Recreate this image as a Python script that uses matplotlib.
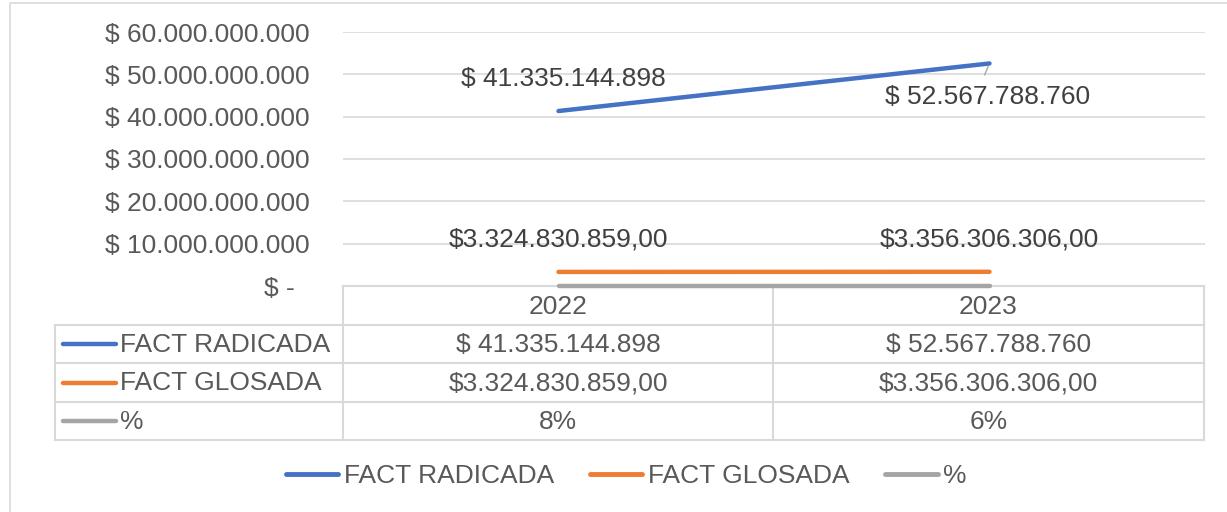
import numpy as np
import matplotlib
matplotlib.use("Agg")
import matplotlib.pyplot as plt
from matplotlib.ticker import FuncFormatter
from matplotlib.lines import Line2D

plt.rcParams['font.family'] = ['Liberation Sans', 'DejaVu Sans']

years = ["2022", "2023"]
series_names = ["FACT RADICADA", "FACT GLOSADA", "%"]
radicada = [41335144898, 52567788760]
glosada = [3324830859.00, 3356306306.00]
pct = [0.08, 0.06]
radicada_txt = ["$ 41.335.144.898", "$ 52.567.788.760"]
glosada_txt = ["$3.324.830.859,00", "$3.356.306.306,00"]
pct_txt = ["8%", "6%"]
yticks = [0, 10e9, 20e9, 30e9, 40e9, 50e9, 60e9]

colors = ["#4472C4", "#ED7D31", "#A5A5A5"]
grid_c = "#D9D9D9"
axis_txt = "#595959"
lbl_txt = "#404040"
fs = 19

W, H = 1227, 512
fig = plt.figure(figsize=(W / 100, H / 100), dpi=100)

# overlay axes in pixel coordinates for table / frame / legend
ov = fig.add_axes([0, 0, 1, 1])
ov.set_xlim(0, W)
ov.set_ylim(H, 0)
ov.axis("off")

# chart frame
ov.plot([10, 10, W], [H, 3, 3], color=grid_c, lw=1.2)

# plot area
L, R, T, B = 343, 1205, 32, 286
ax = fig.add_axes([L / W, 1 - B / H, (R - L) / W, (B - T) / H])
ax.set_facecolor("none")
ax.set_xlim(0, 2)
ax.set_ylim(0, 60e9)
ax.set_yticks(yticks)
ax.yaxis.set_major_formatter(FuncFormatter(
    lambda v, p: "$ -  " if v == 0 else "$ " + f"{v:,.0f}".replace(",", ".")))
ax.tick_params(axis="y", length=0, pad=24, labelsize=fs, labelcolor=axis_txt)
ax.set_xticks([])
for s in ax.spines.values():
    s.set_visible(False)
ax.grid(axis="y", color=grid_c, lw=1.2)
ax.set_axisbelow(True)

x = np.arange(len(years)) + 0.5
series = [radicada, glosada, pct]
for vals, c in zip(series, colors):
    ax.plot(x, vals, color=c, lw=3.2, solid_capstyle="round", zorder=3, clip_on=False)

# data labels
ax.annotate(radicada_txt[0], (x[0], radicada[0]), xytext=(5, 32), textcoords="offset pixels",
            ha="center", va="center", fontsize=fs, color=lbl_txt)
ax.annotate(radicada_txt[1], (x[1], radicada[1]), xytext=(-2, -34), textcoords="offset pixels",
            ha="center", va="center", fontsize=fs, color=lbl_txt)
ax.annotate("", (x[1], radicada[1]), xytext=(-6, -14), textcoords="offset pixels",
            arrowprops=dict(arrowstyle="-", color="#A5A5A5", lw=1))
for xi, v, t in zip(x, glosada, glosada_txt):
    ax.annotate(t, (xi, v), xytext=(0, 32), textcoords="offset pixels",
                ha="center", va="center", fontsize=fs, color=lbl_txt)

# data table
rows_y = [B, 325, 363, 402, 440]
colx = [L, 773, 1204]
tl = 55
ov.plot([L, colx[-1]], [B, B], color=grid_c, lw=1.5)
for yy in rows_y[1:]:
    ov.plot([tl, colx[-1]], [yy, yy], color=grid_c, lw=1.5)
for xx in colx:
    ov.plot([xx, xx], [B, rows_y[-1]], color=grid_c, lw=1.5)
ov.plot([tl, tl], [rows_y[1], rows_y[-1]], color=grid_c, lw=1.5)

centers = [(colx[i] + colx[i + 1]) / 2 for i in range(len(years))]
for cx, yr in zip(centers, years):
    ov.text(cx, (rows_y[0] + rows_y[1]) / 2 + 1, yr, ha="center", va="center",
            fontsize=fs, color=axis_txt)
cells = [radicada_txt, glosada_txt, pct_txt]
for r, (name, c, vals) in enumerate(zip(series_names, colors, cells)):
    yc = (rows_y[r + 1] + rows_y[r + 2]) / 2
    ov.plot([63, 116], [yc, yc], color=c, lw=3.2, solid_capstyle="round")
    ov.text(120, yc + 1, name, ha="left", va="center", fontsize=fs, color=axis_txt)
    for cx, t in zip(centers, vals):
        ov.text(cx, yc + 1, t, ha="center", va="center", fontsize=fs, color=axis_txt)

# legend
handles = [Line2D([], [], color=c, lw=3.5, solid_capstyle="round") for c in colors]
fig.legend(handles, series_names, loc="center", bbox_to_anchor=(626 / W, 1 - 476 / H),
           ncol=3, frameon=False, fontsize=fs, labelcolor=axis_txt,
           handlelength=2.0, handletextpad=0.2, columnspacing=1.35)

fig.savefig("out.png", dpi=100)
